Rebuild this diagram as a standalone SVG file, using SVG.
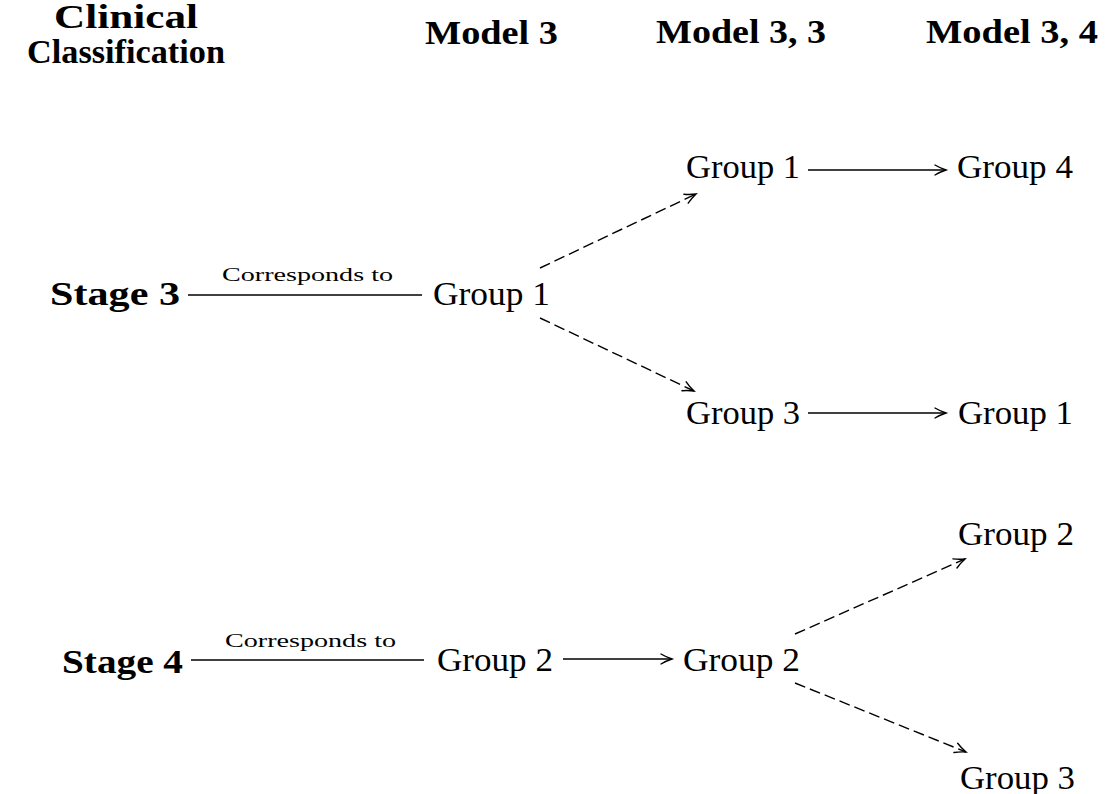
<svg xmlns="http://www.w3.org/2000/svg" width="1111" height="794" viewBox="0 0 1111 794">
<defs>
<marker id="arr" markerUnits="userSpaceOnUse" markerWidth="16" markerHeight="14" refX="12" refY="6" orient="auto">
<path d="M1,1 Q6,4 12,6 Q6,8 1,11" fill="none" stroke="#000" stroke-width="1.4" stroke-linecap="round"/>
</marker>
<style>
.h{font-family:"Liberation Serif",serif;font-weight:bold;font-size:33px;fill:#000}
.n{font-family:"Liberation Serif",serif;font-size:34px;fill:#000}
.s{font-family:"Liberation Serif",serif;font-weight:bold;font-size:33px;fill:#000}
.c{font-family:"Liberation Serif",serif;font-size:19px;fill:#000}
.ln{stroke:#000;stroke-width:1.4;fill:none}
.ar{stroke:#000;stroke-width:1.4;fill:none;marker-end:url(#arr)}
.da{stroke:#000;stroke-width:1.4;fill:none;stroke-dasharray:11 5;marker-end:url(#arr)}
</style>
</defs>
<g id="headers">
<text class="h" x="54" y="28" textLength="144" lengthAdjust="spacingAndGlyphs">Clinical</text>
<text class="h" x="27" y="63" textLength="198" lengthAdjust="spacingAndGlyphs">Classification</text>
<text class="h" x="425" y="44" textLength="133" lengthAdjust="spacingAndGlyphs">Model 3</text>
<text class="h" x="656" y="43" textLength="170" lengthAdjust="spacingAndGlyphs">Model 3, 3</text>
<text class="h" x="926" y="43" textLength="172" lengthAdjust="spacingAndGlyphs">Model 3, 4</text>
</g>
<g id="connectors">
<line class="ln" x1="188" y1="295" x2="422" y2="295"/>
<line class="da" x1="540" y1="268" x2="696" y2="194"/>
<line class="da" x1="540" y1="318" x2="694" y2="391"/>
<line class="ar" x1="808" y1="170" x2="946" y2="170"/>
<line class="ar" x1="808" y1="413" x2="946" y2="413"/>
<line class="ln" x1="191" y1="660" x2="424" y2="660"/>
<line class="ar" x1="563" y1="659" x2="672" y2="659"/>
<line class="da" x1="795" y1="634" x2="965" y2="559"/>
<line class="da" x1="795" y1="683" x2="966" y2="752"/>
</g>
<g id="label-corr1"><text class="c" x="222" y="281" textLength="171" lengthAdjust="spacingAndGlyphs">Corresponds to</text></g>
<g id="label-corr2"><text class="c" x="225" y="647" textLength="171" lengthAdjust="spacingAndGlyphs">Corresponds to</text></g>
<g id="stage3"><text class="s" x="50" y="305" textLength="130" lengthAdjust="spacingAndGlyphs">Stage 3</text></g>
<g id="stage4"><text class="s" x="62" y="673" textLength="121" lengthAdjust="spacingAndGlyphs">Stage 4</text></g>
<g id="m3g1"><text class="n" x="433" y="305" textLength="117" lengthAdjust="spacingAndGlyphs">Group 1</text></g>
<g id="m33g1"><text class="n" x="686" y="178" textLength="114" lengthAdjust="spacingAndGlyphs">Group 1</text></g>
<g id="m34g4"><text class="n" x="957" y="178" textLength="116" lengthAdjust="spacingAndGlyphs">Group 4</text></g>
<g id="m33g3"><text class="n" x="686" y="424" textLength="114" lengthAdjust="spacingAndGlyphs">Group 3</text></g>
<g id="m34g1"><text class="n" x="958" y="424" textLength="115" lengthAdjust="spacingAndGlyphs">Group 1</text></g>
<g id="m3g2"><text class="n" x="437" y="671" textLength="116" lengthAdjust="spacingAndGlyphs">Group 2</text></g>
<g id="m33g2"><text class="n" x="683" y="671" textLength="117" lengthAdjust="spacingAndGlyphs">Group 2</text></g>
<g id="m34g2"><text class="n" x="958" y="545" textLength="116" lengthAdjust="spacingAndGlyphs">Group 2</text></g>
<g id="m34g3"><text class="n" x="960" y="789" textLength="115" lengthAdjust="spacingAndGlyphs">Group 3</text></g>
</svg>
